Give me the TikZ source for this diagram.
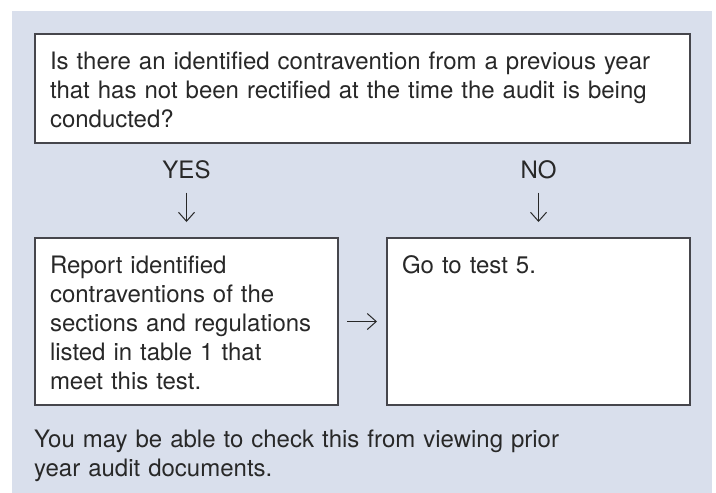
\documentclass[tikz,border=0pt]{standalone}
\usepackage{fontspec}
\setmainfont{TeX Gyre Heros}
\usetikzlibrary{arrows.meta}
\definecolor{panel}{RGB}{217,223,236}
\definecolor{edge}{RGB}{70,70,76}
\definecolor{ink}{RGB}{40,40,40}
\begin{document}
\begin{tikzpicture}[x=1pt,y=-1pt,
  font=\fontsize{24}{29}\selectfont, text=ink,
  box/.style={draw=edge, line width=1.4pt, fill=white, anchor=north west,
    align=left, inner ysep=0pt, inner xsep=15pt, outer sep=0pt},
  lbl/.style={anchor=base, inner sep=0pt},
  arr/.style={draw=ink, line width=1pt, -{Straight Barb[length=9pt,width=16pt,line width=1pt]}}
]
\useasboundingbox[fill=white] (0,0) rectangle (716,493);
\fill[panel] (12,11) rectangle (712,493);

\node[box, text width=625pt, text height=35pt, text depth=74pt] (q) at (35,34)
  {Is there an identified contravention from a previous year\\
   that has not been rectified at the time the audit is being\\
   conducted?};

\node[box, text width=273pt, text height=35pt, text depth=132pt] (yesbox) at (35,238)
  {Report identified\\contraventions of the\\sections and regulations\\listed in table 1 that\\meet this test.};

\node[box, text width=273pt, text height=35pt, text depth=132pt] (nobox) at (387,238)
  {Go to test 5.};

\node[lbl] (yes) at (186.5,178) {YES};
\node[lbl] (no) at (538.5,178) {NO};

\draw[arr, shorten <=14pt, shorten >=16pt] (yes.south) -- (yesbox.north);
\draw[arr, shorten <=14pt, shorten >=16pt] (no.south) -- (nobox.north);
\draw[arr, shorten <=9pt, shorten >=10pt] (yesbox.east) -- (nobox.west);

\node[anchor=base west, inner sep=0pt, text width=600pt, align=left] (note) at (34,447)
  {You may be able to check this from viewing prior\\year audit documents.};
\end{tikzpicture}
\end{document}
